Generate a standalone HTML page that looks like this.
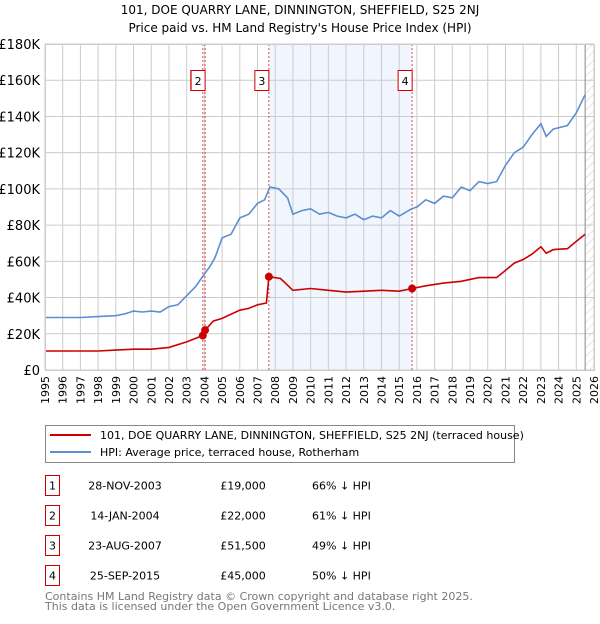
<!DOCTYPE html>
<html><head><meta charset="utf-8"><style>
body{margin:0;background:#fff;font-family:"DejaVu Sans","Liberation Sans",sans-serif;}
svg text{font-family:"DejaVu Sans","Liberation Sans",sans-serif;}
</style></head><body>
<svg id="chart" width="600" height="620" xmlns="http://www.w3.org/2000/svg">
<defs><pattern id="hatch" width="6" height="6" patternUnits="userSpaceOnUse" patternTransform="rotate(45)"><line x1="0" y1="0" x2="0" y2="6" stroke="#ccc" stroke-width="1"/></pattern></defs>
<text x="300" y="14" text-anchor="middle" font-size="12">101, DOE QUARRY LANE, DINNINGTON, SHEFFIELD, S25 2NJ</text>
<text x="300" y="32" text-anchor="middle" font-size="12">Price paid vs. HM Land Registry's House Price Index (HPI)</text>
<g id="plot"></g>
<g>
<rect x="45.5" y="425.5" width="469" height="37" fill="#fff" stroke="#888"/>
<line x1="50" y1="435" x2="91" y2="435" stroke="#cc0000" stroke-width="2"/>
<text x="100" y="439" font-size="11">101, DOE QUARRY LANE, DINNINGTON, SHEFFIELD, S25 2NJ (terraced house)</text>
<line x1="50" y1="452" x2="91" y2="452" stroke="#5b8fd0" stroke-width="2"/>
<text x="100" y="456" font-size="11">HPI: Average price, terraced house, Rotherham</text>
</g>
<g id="table" font-size="11"></g>
<text x="45" y="600" font-size="11" fill="#777">Contains HM Land Registry data © Crown copyright and database right 2025.</text>
<text x="45" y="610" font-size="11" fill="#777">This data is licensed under the Open Government Licence v3.0.</text>
</svg>
<script>
const hpiYears=[1995,1996,1997,1998,1999,1999.5,2000,2000.5,2001,2001.5,2002,2002.5,2003,2003.5,2004,2004.3,2004.6,2005,2005.5,2006,2006.5,2007,2007.4,2007.7,2008.2,2008.7,2009,2009.5,2010,2010.5,2011,2011.5,2012,2012.5,2013,2013.5,2014,2014.5,2015,2015.7,2016,2016.5,2017,2017.5,2018,2018.5,2019,2019.5,2020,2020.5,2021,2021.5,2022,2022.5,2023,2023.3,2023.7,2024.5,2025,2025.5];
const hpiValues=[29,29,29,29.5,30,31,32.5,32,32.5,32,35,36,41,46,53,57,62,73,75,84,86,92,94,101,100,95,86,88,89,86,87,85,84,86,83,85,84,88,85,89,90,94,92,96,95,101,99,104,103,104,113,120,123,130,136,129,133,135,142,152];
const propYears=[1995,1996,1997,1998,1999,2000,2001,2002,2003,2003.9,2004.04,2004.5,2005,2006,2006.5,2007,2007.5,2007.64,2008.3,2009,2010,2011,2012,2013,2014,2015,2015.73,2016.5,2017.5,2018.5,2019.5,2020.5,2021,2021.5,2022,2022.5,2023,2023.3,2023.7,2024.5,2025,2025.5];
const propValues=[10.5,10.5,10.5,10.5,11,11.5,11.5,12.5,15.5,19,22,27,28.5,33,34,36,37,51.5,50.5,44,45,44,43,43.5,44,43.5,45,46.5,48,49,51,51,55,59,61,64,68,64.5,66.5,67,71,75];
const saleYears=[2003.91,2004.04,2007.64,2015.73];
const saleValues=[19,22,51.5,45];
const saleLabels=["1","2","3","4"];
const saleDates=["28-NOV-2003","14-JAN-2004","23-AUG-2007","25-SEP-2015"];
const salePrices=["£19,000","£22,000","£51,500","£45,000"];
const saleDiffs=["66% ↓ HPI","61% ↓ HPI","49% ↓ HPI","50% ↓ HPI"];
const yTicks=[0,20,40,60,80,100,120,140,160,180];
const xTicks=[];for(let y=1995;y<=2026;y++)xTicks.push(y);

const NS="http://www.w3.org/2000/svg";
const X0=45,X1=594,Y0=370,Y1=44;
const sx=v=>X0+(v-1995)/(2026-1995)*(X1-X0);
const sy=v=>Y0-v/180*(Y0-Y1);
const g=document.getElementById('plot');
function mk(t,a,p){const e=document.createElementNS(NS,t);for(const k in a)e.setAttribute(k,a[k]);(p||g).appendChild(e);return e;}
let e;
e=mk('rect',{x:sx(2007.64),y:Y1,width:sx(2015.73)-sx(2007.64),height:Y0-Y1,fill:'#eef3fd',opacity:0.8});


e=mk('rect',{x:sx(2025.5),y:Y1,width:X1-sx(2025.5),height:Y0-Y1,fill:'url(#hatch)'});


xTicks.forEach(t=>{
 e=mk('line',{x1:sx(t),x2:sx(t),y1:Y1,y2:Y0,stroke:'#ccc'});
 
 
 e=mk('text',{x:0,y:0,'font-size':11,'text-anchor':'end',transform:`translate(${sx(t)+4},${Y0+6}) rotate(-90)`});
 e.textContent=t;
 
 
});
yTicks.forEach(t=>{
 e=mk('line',{x1:X0,x2:X1,y1:sy(t),y2:sy(t),stroke:'#ccc'});
 
 
 e=mk('text',{x:40,y:sy(t)+5,'font-size':13,'text-anchor':'end'});
 e.textContent=t===0?'£0':'£'+t+'K';
 
 
});
e=mk('line',{x1:sx(2025.5),x2:sx(2025.5),y1:Y1,y2:Y0,stroke:'#888'});


saleYears.forEach(s=>{
 e=mk('line',{x1:sx(s),x2:sx(s),y1:Y1,y2:Y0,stroke:'#e05050','stroke-dasharray':'2,2'});
 
 
});
function path(xs,vs,col,name){
 const d=xs.map((x,i)=>(i?'L':'M')+sx(x).toFixed(1)+','+sy(vs[i]).toFixed(1)).join('');
 const p=mk('path',{d:d,fill:'none',stroke:col,'stroke-width':1.6});
 
 
}
path(hpiYears,hpiValues,'#5b8fd0','hpi-line');
path(propYears,propValues,'#cc0000','property-line');
saleYears.forEach((s,i)=>{
 e=mk('circle',{cx:sx(s),cy:sy(saleValues[i]),r:4,fill:'#cc0000'});
 
 
 const bx=sx(s)-(i===0?12:14);
 e=mk('rect',{x:bx,y:70.5,width:14,height:20,fill:'#fff',stroke:'#cc0000'});
 
 
 e=mk('text',{x:bx+7,y:85,'font-size':11,'text-anchor':'middle'});
 e.textContent=saleLabels[i];
 
 
});
e=mk('rect',{x:X0+0.5,y:Y1+0.5,width:X1-X0,height:Y0-Y1,fill:'none',stroke:'#ccc'});


const tb=document.getElementById('table');
saleLabels.forEach((l,i)=>{
 const y=475.5+i*30;
 e=mk('rect',{x:45.5,y:y,width:14,height:20,fill:'#fff',stroke:'#cc0000'},tb);
 
 
 e=mk('text',{x:52.5,y:y+14,'text-anchor':'middle'},tb);e.textContent=l;
 
 
 e=mk('text',{x:125,y:y+14,'text-anchor':'middle'},tb);e.textContent=saleDates[i];
 
 
 e=mk('text',{x:243,y:y+14,'text-anchor':'middle'},tb);e.textContent=salePrices[i];
 
 
 e=mk('text',{x:312,y:y+14},tb);e.textContent=saleDiffs[i];
 
 
});
</script>
</body></html>
